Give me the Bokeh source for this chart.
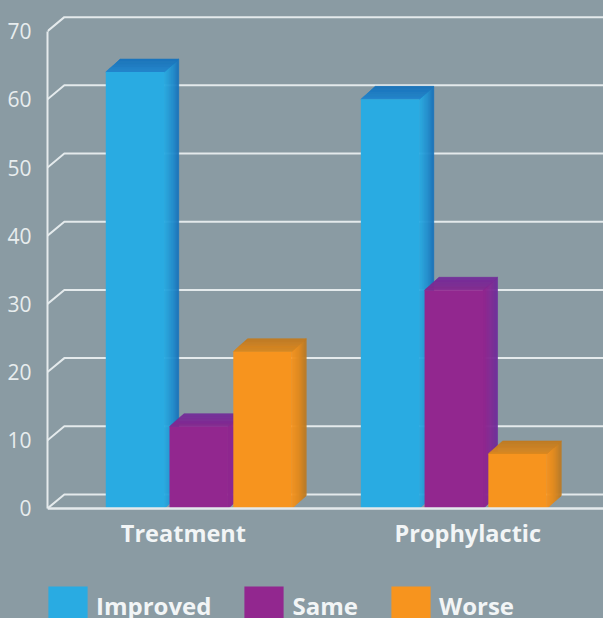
from bokeh.embed import file_html
from bokeh.models import FixedTicker, Legend, LegendItem, Range1d
from bokeh.plotting import figure
from bokeh.resources import INLINE

# Survey results per group, in percent
groups = ["Treatment", "Prophylactic"]
improved = [64, 60]
same = [12, 32]
worse = [23, 8]
y_ticks = [0, 10, 20, 30, 40, 50, 60, 70]

series_names = ["Improved", "Same", "Worse"]
series_values = [improved, same, worse]

# Colours per series: front face, right-side dark edge, top-face back edge, top-face front edge
front_colors = ["#29abe2", "#92278f", "#f7941e"]
side_colors = ["#1b75bc", "#6e2f9c", "#bd7c26"]
top_back_colors = ["#1b75bc", "#74309a", "#c27c22"]
top_front_colors = ["#2287cf", "#86298f", "#dd8a20"]

BG = "#8a9ba3"
WALL = "#e4eaec"

# Scene geometry in data units
GROUP_X = [-0.005, 0.995]
FRONT_W = 0.229
BAR_STEP = 0.25
DEPTH_X = 0.057
DEPTH_Y = 1.9
WALL_DX = 0.066
WALL_DY = 2.05
X_MIN, X_MAX = -0.598, 1.582
LABEL_X = [-0.065, 1.05]
STRIPS = 14


def mix(a, b, t):
    ca = [int(a[i:i + 2], 16) for i in (1, 3, 5)]
    cb = [int(b[i:i + 2], 16) for i in (1, 3, 5)]
    return "#%02x%02x%02x" % tuple(round(p + (q - p) * t) for p, q in zip(ca, cb))


p = figure(
    width=603, height=618, output_backend="svg", toolbar_location=None,
    x_range=Range1d(X_MIN, X_MAX), y_range=Range1d(-16.13, 74.49),
    min_border=0, min_border_left=47, min_border_right=0, min_border_top=0, min_border_bottom=0,
    background_fill_color=BG, border_fill_color=BG,
    outline_line_color=BG, outline_line_width=2,
    styles={"background-color": BG},
)
p.grid.visible = False

# Back wall: each gridline runs along the floor edge, then across the back
for v in y_ticks:
    p.line([X_MIN, X_MIN + WALL_DX, X_MAX], [v, v + WALL_DY, v + WALL_DY],
           line_color=WALL, line_width=2)

# Bars, left to right so that each front face overlaps its neighbour's side
legend_items = []
for s, (name, values) in enumerate(zip(series_names, series_values)):
    offset = (s - 1) * BAR_STEP
    fronts_x0 = [g + offset - FRONT_W / 2 for g in GROUP_X]
    fronts_x1 = [x + FRONT_W for x in fronts_x0]
    for x0, x1, v in zip(fronts_x0, fronts_x1, values):
        # Right side face, shaded in thin strips
        for i in range(STRIPS):
            t0, t1 = i / STRIPS, (i + 1) / STRIPS
            color = mix(front_colors[s], side_colors[s], t1 ** 1.4)
            p.patch(
                [x1 + DEPTH_X * t0, x1 + DEPTH_X * t1, x1 + DEPTH_X * t1, x1 + DEPTH_X * t0],
                [DEPTH_Y * t0, DEPTH_Y * t1, v + DEPTH_Y * t1, v + DEPTH_Y * t0],
                fill_color=color, line_color=color, line_width=0.6,
            )
        # Top face, shaded from its front edge to its back edge
        for i in range(STRIPS):
            t0, t1 = i / STRIPS, (i + 1) / STRIPS
            color = mix(top_front_colors[s], top_back_colors[s], t1)
            p.patch(
                [x0 + DEPTH_X * t0, x1 + DEPTH_X * t0, x1 + DEPTH_X * t1, x0 + DEPTH_X * t1],
                [v + DEPTH_Y * t0, v + DEPTH_Y * t0, v + DEPTH_Y * t1, v + DEPTH_Y * t1],
                fill_color=color, line_color=color, line_width=0.6,
            )
    fronts = p.quad(left=fronts_x0, right=fronts_x1, bottom=0, top=values,
                    fill_color=front_colors[s], line_color=None)
    legend_items.append(LegendItem(label=name, renderers=[fronts]))

# Value axis along the front-left edge
yaxis = p.yaxis[0]
yaxis.ticker = FixedTicker(ticks=y_ticks)
yaxis.bounds = (0, 70)
yaxis.axis_line_color = WALL
yaxis.axis_line_width = 2
yaxis.major_tick_line_color = None
yaxis.minor_tick_line_color = None
yaxis.major_label_standoff = 10
yaxis.major_label_text_color = "#e8edee"
yaxis.major_label_text_font = "Open Sans"
yaxis.major_label_text_font_size = "21px"

# Category axis on the floor's front edge
xaxis = p.xaxis[0]
xaxis.fixed_location = 0
xaxis.ticker = FixedTicker(ticks=LABEL_X)
xaxis.major_label_overrides = dict(zip(LABEL_X, groups))
xaxis.axis_line_color = WALL
xaxis.axis_line_width = 2.5
xaxis.major_tick_line_color = None
xaxis.minor_tick_line_color = None
xaxis.major_label_standoff = 3
xaxis.major_label_text_color = "#f2f5f6"
xaxis.major_label_text_font = "Open Sans"
xaxis.major_label_text_font_style = "bold"
xaxis.major_label_text_font_size = "23.5px"

legend = Legend(
    items=legend_items, orientation="horizontal", location=(-4, -12),
    glyph_width=49, glyph_height=49, label_standoff=4, spacing=28,
    padding=0, margin=0, background_fill_alpha=0, border_line_color=None,
    label_text_color="#f2f5f6", label_text_font="Open Sans",
    label_text_font_style="bold", label_text_font_size="24px",
    label_height=49,
)
p.add_layout(legend, "center")

open("out.html", "w").write(file_html(p, INLINE))
